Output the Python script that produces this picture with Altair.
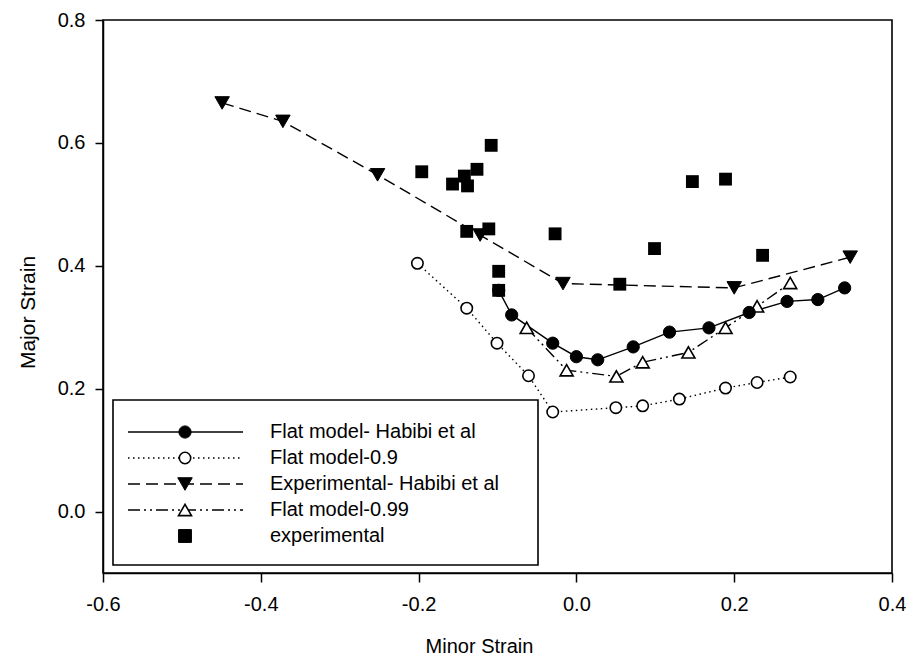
import altair as alt
import pandas as pd

# ---- data ----
flat_habibi_x = [-0.0985, -0.082, -0.030, 0.000, 0.027, 0.072, 0.118, 0.168, 0.219, 0.267, 0.306, 0.340]
flat_habibi_y = [0.360, 0.320, 0.274, 0.252, 0.247, 0.268, 0.292, 0.299, 0.324, 0.342, 0.345, 0.364]

flat09_x = [-0.2015, -0.139, -0.1006, -0.0607, -0.030, 0.050, 0.084, 0.1305, 0.189, 0.229, 0.271]
flat09_y = [0.404, 0.331, 0.274, 0.221, 0.162, 0.169, 0.172, 0.183, 0.201, 0.210, 0.219]

exp_habibi_x = [-0.449, -0.372, -0.252, -0.122, -0.017, 0.200, 0.347]
exp_habibi_y = [0.665, 0.635, 0.548, 0.450, 0.371, 0.364, 0.414]

flat099_x = [-0.063, -0.0124, 0.0507, 0.084, 0.142, 0.189, 0.229, 0.271]
flat099_y = [0.299, 0.230, 0.220, 0.243, 0.259, 0.299, 0.334, 0.372]

experimental_x = [-0.196, -0.157, -0.142, -0.138, -0.126, -0.108, -0.139, -0.111,
                  -0.0985, -0.0985, -0.027, 0.055, 0.099, 0.147, 0.189, 0.236]
experimental_y = [0.553, 0.533, 0.546, 0.530, 0.557, 0.596, 0.456, 0.460,
                  0.391, 0.360, 0.452, 0.370, 0.428, 0.537, 0.541, 0.417]

x_ticks = [-0.6, -0.4, -0.2, 0.0, 0.2, 0.4]
y_ticks = [0.0, 0.2, 0.4, 0.6, 0.8]

legend_labels = ["Flat model- Habibi et al", "Flat model-0.9", "Experimental- Habibi et al",
                 "Flat model-0.99", "experimental"]

FONT = "Liberation Sans"
W, H = 789, 553

xs = alt.Scale(domain=[-0.6, 0.4], nice=False, zero=False)
ys = alt.Scale(domain=[-0.1, 0.8], nice=False, zero=False)

label_expr = "(datum.value < -0.00001 ? '-' : '') + format(abs(datum.value), '.1f')"

x_axis = alt.Axis(values=x_ticks, labelExpr=label_expr, title="Minor Strain", grid=False,
                  labelFlush=False, labelOverlap=False,
                  tickSize=9, tickWidth=1.5, tickColor="black", domainColor="black", domainWidth=1.5,
                  labelFont=FONT, labelFontSize=20, labelColor="black", labelPadding=12,
                  titleFont=FONT, titleFontSize=20, titleFontWeight="normal", titleColor="black",
                  titleX=376, titleY=73, titleAlign="center", titleBaseline="middle")
y_axis = alt.Axis(values=y_ticks, labelExpr=label_expr, title="Major Strain", grid=False,
                  labelFlush=False, labelOverlap=False,
                  tickSize=8, tickWidth=1.5, tickColor="black", domainColor="black", domainWidth=1.5,
                  labelFont=FONT, labelFontSize=20, labelColor="black", labelPadding=10,
                  titleFont=FONT, titleFontSize=21, titleFontWeight="normal", titleColor="black",
                  titleX=-75, titleY=292, titleAngle=270, titleAlign="center", titleBaseline="middle")


def df(xv, yv):
    return pd.DataFrame({"x": xv, "y": yv, "i": list(range(len(xv)))})


def enc(ch):
    return ch.encode(x=alt.X("x:Q", scale=xs, axis=x_axis),
                     y=alt.Y("y:Q", scale=ys, axis=y_axis),
                     order="i:Q")


# styles per series: (x, y, dash, shape, filled, size)
specs = [
    (flat09_x, flat09_y, [1.5, 3.5], "circle", False, 130),
    (exp_habibi_x, exp_habibi_y, [12, 6], "triangle-down", True, 210),
    (flat099_x, flat099_y, [12, 4, 2, 4, 2, 4], "triangle-up", False, 170),
    (flat_habibi_x, flat_habibi_y, None, "circle", True, 150),
]

layers = []
for xv, yv, dash, shape, filled, size in specs:
    d = df(xv, yv)
    if dash is None:
        line = alt.Chart(d).mark_line(color="black", strokeWidth=1.4)
    else:
        line = alt.Chart(d).mark_line(color="black", strokeWidth=1.4, strokeDash=dash)
    layers.append(enc(line))
for xv, yv, dash, shape, filled, size in specs:
    d = df(xv, yv)
    if filled:
        pt = alt.Chart(d).mark_point(shape=shape, filled=True, fill="black", stroke="black",
                                     strokeWidth=1, size=size, opacity=1)
    else:
        pt = alt.Chart(d).mark_point(shape=shape, filled=True, fill="white", stroke="black",
                                     strokeWidth=1.6, size=size, opacity=1)
    layers.append(enc(pt))

sq = alt.Chart(df(experimental_x, experimental_y)).mark_point(
    shape="square", filled=True, fill="black", size=165, opacity=1)
layers.append(enc(sq))

# ---- legend box (drawn in pixel space of the plot) ----
box = alt.Chart(pd.DataFrame({"a": [0]})).mark_rect(fill="white", stroke="black", strokeWidth=1.6).encode(
    x=alt.value(10), x2=alt.value(435), y=alt.value(380), y2=alt.value(545))
layers.append(box)

row_y = [412, 438, 464, 490, 516]
leg_specs = [
    (None, "circle", True, 150),
    ([1.5, 3.5], "circle", False, 130),
    ([12, 6], "triangle-down", True, 210),
    ([12, 4, 2, 4, 2, 4], "triangle-up", False, 170),
    ("none", "square", True, 165),
]
for lab, ry, (dash, shape, filled, size) in zip(legend_labels, row_y, leg_specs):
    ld = pd.DataFrame({"label": [lab]})
    if dash != "none":
        if dash is None:
            r = alt.Chart(ld).mark_rule(color="black", strokeWidth=1.4)
        else:
            r = alt.Chart(ld).mark_rule(color="black", strokeWidth=1.4, strokeDash=dash)
        layers.append(r.encode(x=alt.value(25), x2=alt.value(140), y=alt.value(ry)))
    if filled:
        p = alt.Chart(ld).mark_point(shape=shape, filled=True, fill="black", stroke="black",
                                     strokeWidth=1, size=size, opacity=1)
    else:
        p = alt.Chart(ld).mark_point(shape=shape, filled=True, fill="white", stroke="black",
                                     strokeWidth=1.6, size=size, opacity=1)
    layers.append(p.encode(x=alt.value(82), y=alt.value(ry)))
    t = alt.Chart(ld).mark_text(align="left", baseline="middle", font=FONT, fontSize=20,
                                color="black").encode(x=alt.value(167), y=alt.value(ry), text="label:N")
    layers.append(t)

chart = alt.layer(*layers).properties(
    width=W, height=H,
    autosize=alt.AutoSizeParams(type="none"),
    padding={"left": 95, "top": 12, "right": 14, "bottom": 82},
    background="white",
).configure_view(stroke="black", strokeWidth=1.6)

chart.save("out.html", embed_options={"renderer": "svg", "actions": False})
